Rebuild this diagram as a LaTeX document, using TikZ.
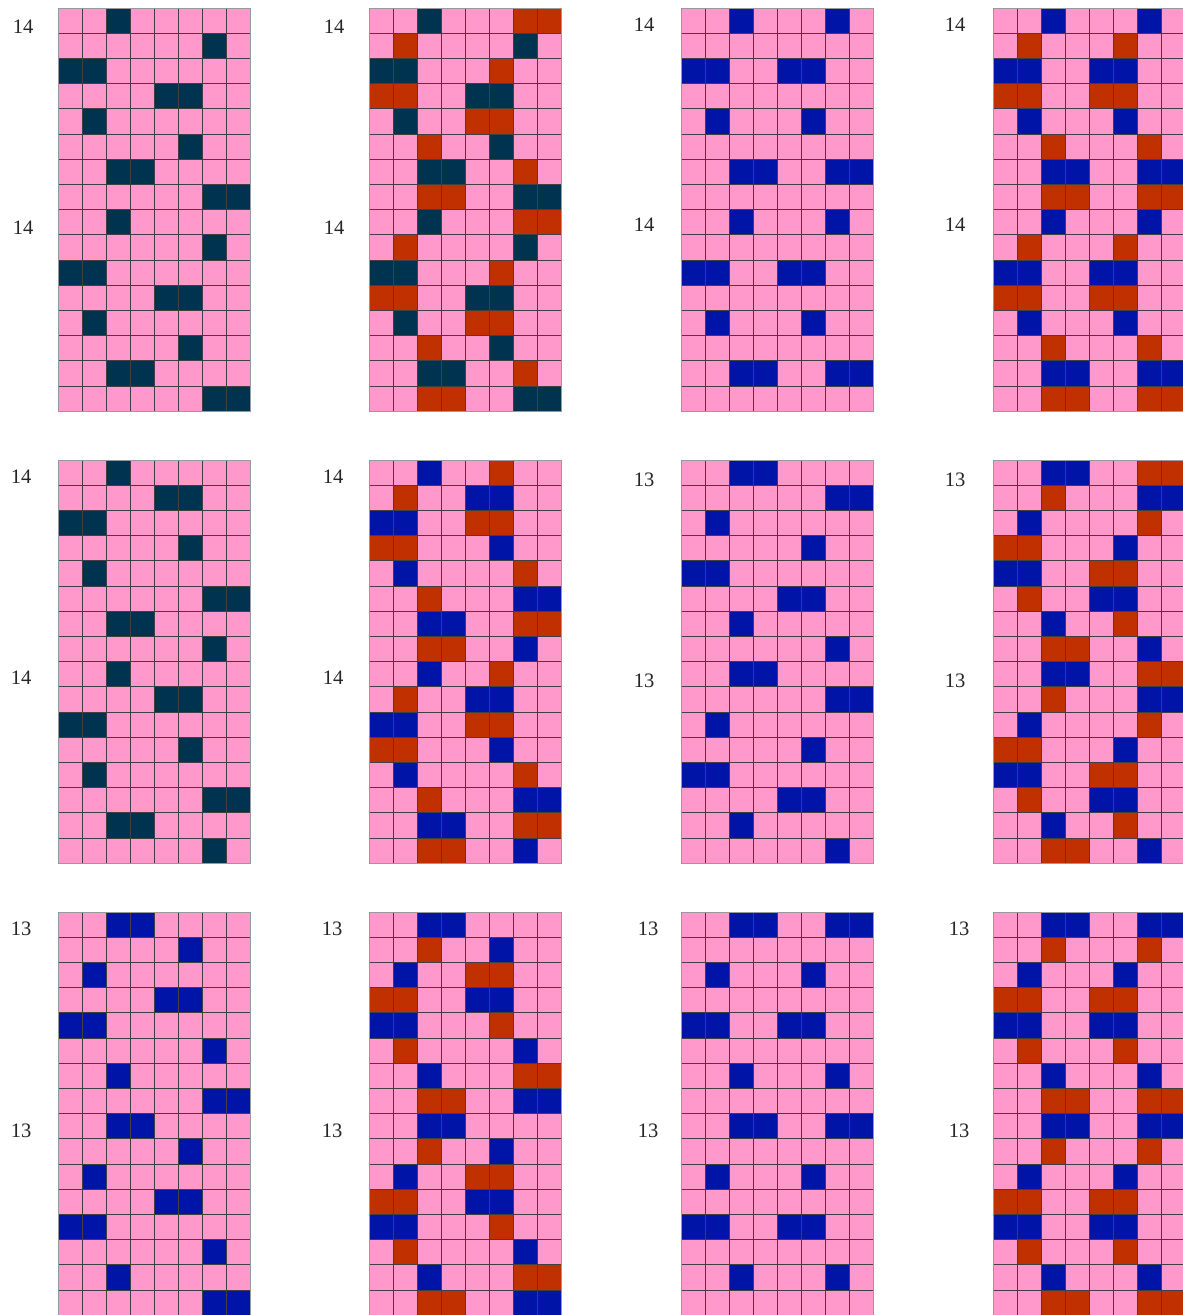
\documentclass[tikz,border=0pt]{standalone}
\usepackage{fontspec}
\setmainfont{Liberation Serif}
\definecolor{cP}{HTML}{FF99CC}
\definecolor{cN}{HTML}{00334F}
\definecolor{cB}{HTML}{0014A8}
\definecolor{cR}{HTML}{C03000}
\tikzset{
  gridline/.style={draw=black!75, line width=0.7pt},
  frameline/.style={draw=black!40, line width=1pt},
  lab/.style={font=\fontsize{20.5}{20.5}\selectfont, text=black!85, inner sep=0pt, anchor=center}
}
\newcommand\gcell[2]{\if#2o\else\fill[fill=c#2] ({\px+#1*24},{\py+\i*25.2}) rectangle ++(24,25.2);\fi}
\newcommand\drawrowcells[8]{\gcell{0}{#1}\gcell{1}{#2}\gcell{2}{#3}\gcell{3}{#4}\gcell{4}{#5}\gcell{5}{#6}\gcell{6}{#7}\gcell{7}{#8}}
\newcommand\gpanel[3]{%
  \def\px{#1}\def\py{#2}%
  \fill[cP] (#1,#2) rectangle ++(192,403.2);
  \foreach \rw [count=\i from 0] in {#3,#3} {\expandafter\drawrowcells\rw}
  \foreach \k in {1,...,7} \draw[gridline] ({#1+\k*24},#2) -- ++(0,403.2);
  \foreach \k in {1,...,15} \draw[gridline] (#1,{#2+\k*25.2}) -- ++(192,0);
  \draw[frameline] (#1,#2) rectangle ++(192,403.2);
}
\begin{document}
\begin{tikzpicture}[x=1pt,y=-1pt]
\useasboundingbox (0,0) rectangle (1183,1315);
\clip (0,0) rectangle (1183,1315);
\fill[white] (0,0) rectangle (1183,1315);
% row 1
\gpanel{58}{8}{ooNooooo,ooooooNo,NNoooooo,ooooNNoo,oNoooooo,oooooNoo,ooNNoooo,ooooooNN}
\gpanel{369}{8}{ooNoooRR,oRooooNo,NNoooRoo,RRooNNoo,oNooRRoo,ooRooNoo,ooNNooRo,ooRRooNN}
\gpanel{681}{8}{ooBoooBo,oooooooo,BBooBBoo,oooooooo,oBoooBoo,oooooooo,ooBBooBB,oooooooo}
\gpanel{993}{8}{ooBoooBo,oRoooRoo,BBooBBoo,RRooRRoo,oBoooBoo,ooRoooRo,ooBBooBB,ooRRooRR}
% row 2
\gpanel{58}{460}{ooNooooo,ooooNNoo,NNoooooo,oooooNoo,oNoooooo,ooooooNN,ooNNoooo,ooooooNo}
\gpanel{369}{460}{ooBooRoo,oRooBBoo,BBooRRoo,RRoooBoo,oBooooRo,ooRoooBB,ooBBooRR,ooRRooBo}
\gpanel{681}{460}{ooBBoooo,ooooooBB,oBoooooo,oooooBoo,BBoooooo,ooooBBoo,ooBooooo,ooooooBo}
\gpanel{993}{460}{ooBBooRR,ooRoooBB,oBooooRo,RRoooBoo,BBooRRoo,oRooBBoo,ooBooRoo,ooRRooBo}
% row 3
\gpanel{58}{912}{ooBBoooo,oooooBoo,oBoooooo,ooooBBoo,BBoooooo,ooooooBo,ooBooooo,ooooooBB}
\gpanel{369}{912}{ooBBoooo,ooRooBoo,oBooRRoo,RRooBBoo,BBoooRoo,oRooooBo,ooBoooRR,ooRRooBB}
\gpanel{681}{912}{ooBBooBB,oooooooo,oBoooBoo,oooooooo,BBooBBoo,oooooooo,ooBoooBo,oooooooo}
\gpanel{993}{912}{ooBBooBB,ooRoooRo,oBoooBoo,RRooRRoo,BBooBBoo,oRoooRoo,ooBoooBo,ooRRooRR}
% labels
\node[lab] (l11a) at (23,27) {14};
\node[lab] (l11b) at (23,228) {14};
\node[lab] (l12a) at (334,27) {14};
\node[lab] (l12b) at (334,228) {14};
\node[lab] (l13a) at (644,25) {14};
\node[lab] (l13b) at (644,225) {14};
\node[lab] (l14a) at (955,25) {14};
\node[lab] (l14b) at (955,225) {14};
\node[lab] (l21a) at (21,477) {14};
\node[lab] (l21b) at (21,678) {14};
\node[lab] (l22a) at (333,477) {14};
\node[lab] (l22b) at (333,678) {14};
\node[lab] (l23a) at (644,480) {13};
\node[lab] (l23b) at (644,681) {13};
\node[lab] (l24a) at (955,480) {13};
\node[lab] (l24b) at (955,681) {13};
\node[lab] (l31a) at (21,929) {13};
\node[lab] (l31b) at (21,1131) {13};
\node[lab] (l32a) at (332,929) {13};
\node[lab] (l32b) at (332,1131) {13};
\node[lab] (l33a) at (648,929) {13};
\node[lab] (l33b) at (648,1131) {13};
\node[lab] (l34a) at (959,929) {13};
\node[lab] (l34b) at (959,1131) {13};
\end{tikzpicture}
\end{document}
